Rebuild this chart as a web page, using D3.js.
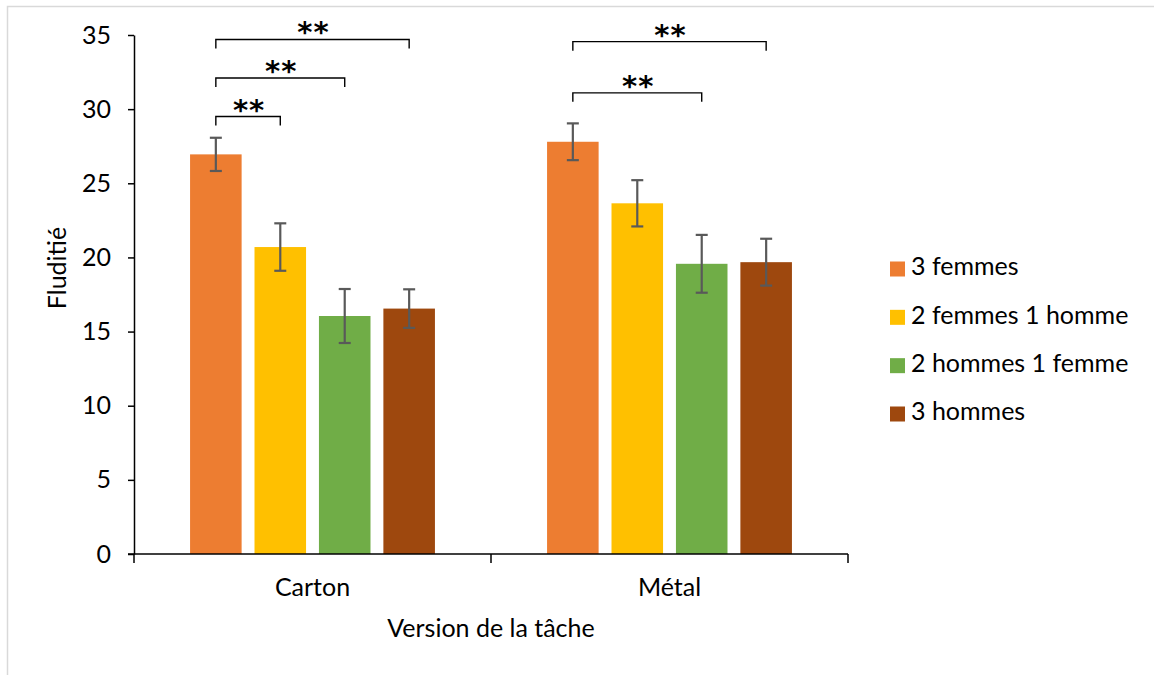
<!DOCTYPE html>
<html>
<head>
<meta charset="utf-8">
<script src="https://cdn.jsdelivr.net/npm/d3@7"></script>
<style>
  html, body { margin: 0; padding: 0; background: #fff; }
  text { font-family: Lato, "Carlito", "Liberation Sans", sans-serif; fill: #000; }
</style>
</head>
<body>
<svg id="chart" width="1154" height="675"></svg>
<script>
const categories = ["Carton", "Métal"];
const seriesNames = ["3 femmes", "2 femmes 1 homme", "2 hommes 1 femme", "3 hommes"];
const seriesColors = ["#ED7D31", "#FFC000", "#70AD47", "#9E480E"];
const cartonMeans = [26.95, 20.7, 16.05, 16.55];
const metalMeans  = [27.8, 23.65, 19.57, 19.68];
const cartonErrors = [1.12, 1.6, 1.82, 1.3];
const metalErrors  = [1.24, 1.56, 1.95, 1.58];
const yTickValues = [0, 5, 10, 15, 20, 25, 30, 35];
const yTitle = "Fluditié";
const xTitle = "Version de la tâche";
// significance brackets: category, from series index, to series index, level (data units)
const brackets = [
  { cat: "Carton", from: 0, to: 1, level: 29.5, label: "**" },
  { cat: "Carton", from: 0, to: 2, level: 32.1, label: "**" },
  { cat: "Carton", from: 0, to: 3, level: 34.7, label: "**" },
  { cat: "Métal",  from: 0, to: 2, level: 31.1, label: "**" },
  { cat: "Métal",  from: 0, to: 3, level: 34.55, label: "**" }
];

const data = [];
categories.forEach((c, ci) => {
  const m = ci === 0 ? cartonMeans : metalMeans;
  const e = ci === 0 ? cartonErrors : metalErrors;
  seriesNames.forEach((s, si) => data.push({ cat: c, series: s, si, value: m[si], err: e[si] }));
});

const svg = d3.select("#chart");
const FS = "25px";

// outer frame
svg.append("rect").attr("x", 7.5).attr("y", 6.5).attr("width", 1160).attr("height", 700)
  .attr("fill", "none").attr("stroke", "#d9d9d9").attr("stroke-width", 1.5);

const plotLeft = 134, plotRight = 848, plotTop = 35, plotBottom = 554;

const x0 = d3.scaleBand().domain(categories).range([plotLeft, plotRight]).padding(0);
const x1 = d3.scaleBand().domain(seriesNames).range([0, x0.bandwidth()])
  .paddingInner(0.2).paddingOuter(0.87);
const y = d3.scaleLinear().domain([0, 35]).range([plotBottom, plotTop]);
const color = d3.scaleOrdinal().domain(seriesNames).range(seriesColors);

// bars
svg.append("g").selectAll("rect").data(data).join("rect")
  .attr("x", d => x0(d.cat) + x1(d.series))
  .attr("y", d => y(d.value))
  .attr("width", x1.bandwidth())
  .attr("height", d => y(0) - y(d.value))
  .attr("fill", d => color(d.series));

// error bars
const eg = svg.append("g").attr("stroke", "#595959").attr("stroke-width", 2.2).attr("fill", "none");
data.forEach(d => {
  const cx = x0(d.cat) + x1(d.series) + x1.bandwidth() / 2;
  const yt = y(d.value + d.err), yb = y(d.value - d.err);
  eg.append("line").attr("x1", cx).attr("x2", cx).attr("y1", yt).attr("y2", yb);
  eg.append("line").attr("x1", cx - 6).attr("x2", cx + 6).attr("y1", yt).attr("y2", yt);
  eg.append("line").attr("x1", cx - 6).attr("x2", cx + 6).attr("y1", yb).attr("y2", yb);
});

// y axis
const yAxis = d3.axisLeft(y).tickValues(yTickValues).tickSize(6).tickPadding(17).tickSizeOuter(0);
const ya = svg.append("g").attr("transform", `translate(${plotLeft},0)`).call(yAxis);
ya.select(".domain").attr("stroke", "#000").attr("stroke-width", 1.5);
ya.selectAll(".tick line").attr("stroke", "#000").attr("stroke-width", 1.5);
ya.selectAll(".tick text").style("font-size", FS).attr("fill", "#000");

// x axis
const xa = svg.append("g").attr("transform", `translate(0,${plotBottom})`)
  .call(d3.axisBottom(x0).tickSize(0).tickPadding(24));
xa.select(".domain").remove();
xa.selectAll(".tick text").style("font-size", FS).attr("fill", "#000");
xa.append("line").attr("x1", plotLeft - 6).attr("x2", plotRight).attr("y1", 0).attr("y2", 0)
  .attr("stroke", "#000").attr("stroke-width", 1.5);
const xBounds = [plotLeft, plotLeft + x0.bandwidth(), plotRight];
xa.selectAll(".bound").data(xBounds).join("line")
  .attr("x1", d => d).attr("x2", d => d).attr("y1", 0).attr("y2", 9)
  .attr("stroke", "#000").attr("stroke-width", 1.5);

// axis titles
svg.append("text").attr("x", (plotLeft + plotRight) / 2).attr("y", 631)
  .attr("text-anchor", "middle").attr("dominant-baseline", "middle")
  .style("font-size", FS).text(xTitle);
svg.append("text").attr("transform", `translate(60,${268}) rotate(-90)`)
  .attr("text-anchor", "middle").attr("dominant-baseline", "middle")
  .style("font-size", FS).text(yTitle);

// brackets
const bg = svg.append("g");
brackets.forEach(b => {
  const xa_ = x0(b.cat) + x1(seriesNames[b.from]) + x1.bandwidth() / 2;
  const xb_ = x0(b.cat) + x1(seriesNames[b.to]) + x1.bandwidth() / 2;
  const yl = y(b.level);
  bg.append("path")
    .attr("d", `M${xa_},${yl + 9}V${yl}H${xb_}V${yl + 9}`)
    .attr("fill", "none").attr("stroke", "#000").attr("stroke-width", 1.4);
  bg.append("text").attr("x", (xa_ + xb_) / 2 + 1).attr("y", yl + 3)
    .attr("text-anchor", "middle")
    .style("font-family", "'DejaVu Sans', sans-serif").style("font-weight", "bold")
    .style("font-size", "29px").style("letter-spacing", "1px").text(b.label);
});

// legend
const lg = svg.append("g").attr("transform", "translate(890,0)");
const legendY = d3.scalePoint().domain(seriesNames).range([269, 414]);
seriesNames.forEach(s => {
  lg.append("rect").attr("x", 0).attr("y", legendY(s) - 7.5).attr("width", 15).attr("height", 15)
    .attr("fill", color(s));
  lg.append("text").attr("x", 21).attr("y", legendY(s)).attr("dominant-baseline", "middle")
    .style("font-size", FS).text(s);
});
</script>
</body>
</html>
